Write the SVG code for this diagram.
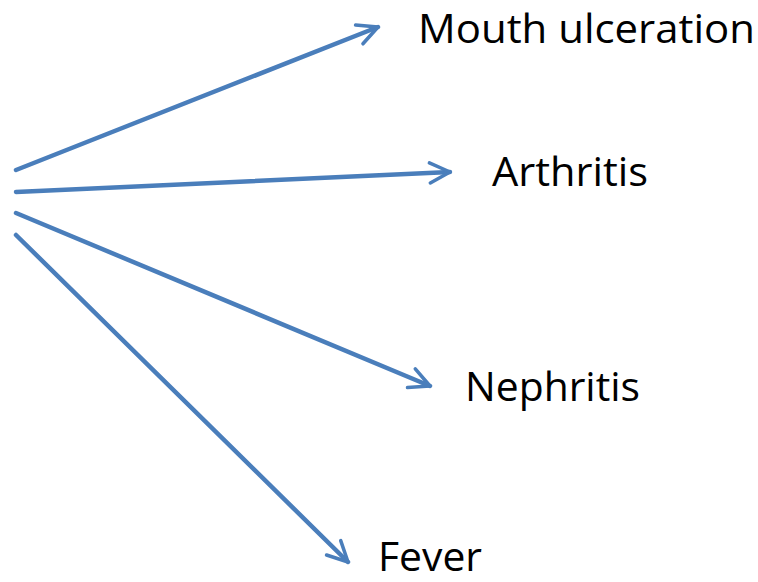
<svg xmlns="http://www.w3.org/2000/svg" width="758" height="582" viewBox="0 0 758 582">
<style>
.c{stroke:#4a7ebb;stroke-width:4.5;fill:none;stroke-linecap:round;stroke-linejoin:round}
.t{font-family:"Open Sans","Liberation Sans",sans-serif;font-size:41px;fill:#000}
</style>
<defs>
<marker id="a" viewBox="0 0 10 10" refX="9" refY="5" markerWidth="5.6" markerHeight="5.6" markerUnits="strokeWidth" orient="auto">
<path d="M1,1 L9,5 L1,9" fill="none" stroke="#4a7ebb" stroke-width="1.4" stroke-linecap="round" stroke-linejoin="round"/>
</marker>
</defs>
<g id="connectors">
<line class="c" x1="16" y1="170" x2="378" y2="27" marker-end="url(#a)"/>
<line class="c" x1="16" y1="192" x2="450" y2="172" marker-end="url(#a)"/>
<line class="c" x1="16" y1="213" x2="430" y2="386" marker-end="url(#a)"/>
<line class="c" x1="16" y1="235" x2="348" y2="562" marker-end="url(#a)"/>
</g>
<g id="mouth"><text class="t" x="418" y="43" textLength="337" lengthAdjust="spacingAndGlyphs">Mouth ulceration</text></g>
<g id="arthritis"><text class="t" x="492" y="186" textLength="156" lengthAdjust="spacingAndGlyphs">Arthritis</text></g>
<g id="nephritis"><text class="t" x="465" y="401" textLength="175" lengthAdjust="spacingAndGlyphs">Nephritis</text></g>
<g id="fever"><text class="t" x="378" y="571" textLength="104" lengthAdjust="spacingAndGlyphs">Fever</text></g>
</svg>
